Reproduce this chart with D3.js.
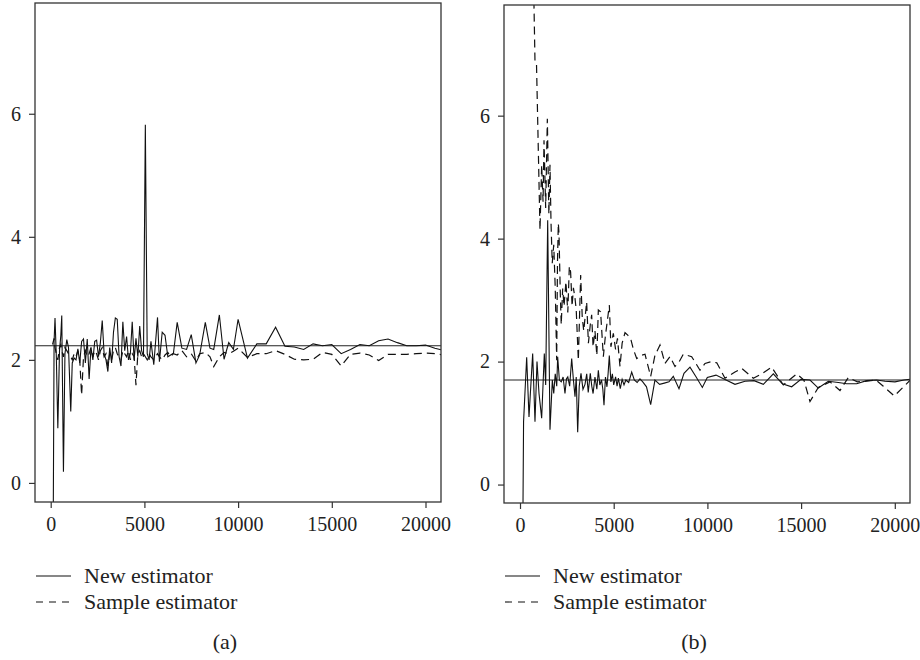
<!DOCTYPE html>
<html>
<head>
<meta charset="utf-8">
<script src="https://cdn.jsdelivr.net/npm/d3@7"></script>
<style>
  body { margin: 0; background: #fff; }
  svg { display: block; font-family: "Liberation Serif", "DejaVu Serif", serif; }
</style>
</head>
<body>
<div id="chart"></div>
<script>
const width = 920;
const height = 660;

const xTicks = [0, 5000, 10000, 15000, 20000];
const yTicks = [0, 2, 4, 6];
const legendLabels = ["New estimator", "Sample estimator"];
const captions = ["(a)", "(b)"];

// panel (a): both estimators on the same sample sizes
const xA = [
  100, 180, 230, 300, 380, 470, 540, 590, 680, 760,
  860, 950, 1070, 1150, 1250, 1350, 1450, 1550, 1650, 1750,
  1850, 1950, 2050, 2150, 2250, 2350, 2450, 2550, 2650, 2750,
  2850, 2950, 3050, 3150, 3250, 3350, 3450, 3550, 3650, 3750,
  3850, 3950, 4050, 4150, 4250, 4350, 4450, 4550, 4650, 4750,
  4850, 4950, 5050, 5150, 5250, 5350, 5500, 5700, 5800, 5950,
  6100, 6250, 6400, 6550, 6750, 7000, 7250, 7500, 7750, 7950,
  8250, 8500, 8700, 9000, 9250, 9500, 9750, 10000, 10500, 11000,
  11500, 12000, 12500, 13000, 13500, 14000, 14500, 15000, 15500, 16000,
  16500, 17000, 17500, 18000, 18500, 19000, 19500, 20000, 20500, 21000
];
const newA = [
  -3.0, 2.30, 2.68, 2.05, 0.89, 2.15, 2.40, 2.72, 0.18, 2.10,
  2.33, 2.20, 1.16, 1.95, 2.03, 2.00, 2.18, 1.95, 2.30, 2.34,
  1.95, 2.34, 1.69, 2.20, 2.00, 2.30, 2.32, 2.05, 2.28, 2.64,
  2.10, 2.00, 1.81, 2.20, 1.95, 2.45, 2.68, 2.66, 2.05, 1.90,
  2.62, 2.15, 2.38, 2.00, 2.10, 2.62, 2.00, 2.35, 2.05, 2.55,
  2.15, 2.05, 5.82, 2.10, 2.00, 2.30, 1.92, 2.69, 1.97, 2.45,
  2.40, 2.05, 2.08, 2.11, 2.61, 2.19, 2.17, 2.41, 1.95, 2.08,
  2.61, 2.19, 2.17, 2.73, 2.01, 2.28, 2.17, 2.66, 2.03, 2.26,
  2.26, 2.53, 2.22, 2.21, 2.17, 2.26, 2.23, 2.25, 2.10, 2.17,
  2.25, 2.23, 2.31, 2.34, 2.28, 2.23, 2.23, 2.24, 2.19, 2.15
];
const sampleA = [
  2.25, 2.35, 2.20, 2.10, 2.00, 2.20, 2.25, 2.15, 2.05, 2.20,
  2.15, 2.10, 2.05, 2.00, 2.10, 2.05, 2.15, 2.00, 1.43, 2.05,
  2.15, 2.05, 2.10, 2.20, 2.05, 2.15, 2.10, 2.00, 2.15, 2.20,
  2.05, 2.10, 1.90, 2.10, 2.00, 2.15, 2.20, 2.10, 2.05, 2.00,
  2.15, 2.10, 2.05, 2.15, 2.00, 2.10, 2.05, 1.59, 2.10, 2.15,
  2.05, 2.10, 2.05, 2.00, 2.10, 2.05, 2.00, 2.10, 2.05, 2.00,
  2.08, 2.12, 2.05, 2.10, 2.08, 2.15, 2.05, 2.10, 1.98, 2.10,
  2.12, 2.05, 1.89, 2.05, 2.12, 2.10, 2.14, 2.19, 2.04, 2.10,
  2.10, 2.15, 2.09, 2.01, 2.00, 2.01, 2.12, 2.09, 1.90, 2.09,
  2.11, 2.08, 1.99, 2.09, 2.09, 2.09, 2.10, 2.11, 2.10, 2.08
];
const refA = 2.23;

// panel (b)
const xNewB = [
  100, 190, 356, 480, 676, 800, 907, 1014, 1156, 1297,
  1370, 1477, 1600, 1725, 1800, 1880, 1960, 2010, 2100, 2200,
  2300, 2400, 2480, 2550, 2650, 2758, 2850, 2935, 3000, 3078,
  3160, 3255, 3360, 3468, 3560, 3640, 3750, 3830, 3900, 4000,
  4100, 4180, 4260, 4350, 4420, 4482, 4560, 4640, 4700, 4766,
  4850, 4930, 5000, 5100, 5180, 5250, 5350, 5450, 5550, 5650,
  5800, 5960, 6100, 6250, 6400, 6550, 6750, 6973, 7200, 7450,
  7700, 7950, 8180, 8484, 8750, 9071, 9400, 9730, 9995, 10459,
  10939, 11472, 12006, 12486, 12984, 13517, 13998, 14496, 14994, 15474,
  15918, 16452, 16986, 17430, 17964, 18498, 19032, 19476, 20010, 20490,
  20987
];
const newB = [
  -3.0, 1.02, 2.07, 1.10, 2.13, 1.02, 2.00, 1.48, 1.08, 2.13,
  1.62, 4.30, 0.89, 1.70, 1.48, 1.80, 1.60, 2.08, 1.70, 1.67,
  1.75, 1.48, 1.72, 1.75, 1.60, 2.05, 1.70, 1.43, 1.75, 0.85,
  1.60, 1.81, 1.55, 1.63, 1.80, 1.50, 1.81, 1.60, 1.48, 1.75,
  1.55, 1.86, 1.62, 1.70, 1.55, 1.29, 1.75, 1.59, 1.80, 2.10,
  1.67, 1.80, 1.62, 1.75, 1.60, 1.73, 1.56, 1.71, 1.62, 1.70,
  1.66, 1.83, 1.70, 1.66, 1.72, 1.67, 1.59, 1.30, 1.70, 1.63,
  1.65, 1.67, 1.76, 1.56, 1.81, 1.91, 1.75, 1.58, 1.74, 1.78,
  1.71, 1.63, 1.68, 1.69, 1.63, 1.80, 1.64, 1.59, 1.71, 1.70,
  1.57, 1.68, 1.66, 1.64, 1.64, 1.69, 1.70, 1.68, 1.67, 1.70,
  1.72
];
const xSampleB = [
  100, 400, 711, 800, 880, 1067, 1156, 1230, 1281, 1370,
  1459, 1540, 1600, 1654, 1720, 1800, 1880, 1957, 2000, 2045,
  2081, 2150, 2200, 2277, 2350, 2450, 2550, 2632, 2700, 2780,
  2850, 2935, 3000, 3113, 3237, 3320, 3400, 3557, 3650, 3750,
  3824, 3900, 4000, 4100, 4180, 4300, 4447, 4550, 4767, 4850,
  4980, 5100, 5200, 5336, 5450, 5603, 5750, 5900, 6050, 6227,
  6450, 6670, 6973, 7200, 7470, 7737, 8004, 8270, 8500, 8715,
  9160, 9605, 9872, 10228, 10500, 10939, 11472, 11828, 12450, 12900,
  13428, 14050, 14762, 15150, 15474, 15918, 16541, 17075, 17519, 18000,
  18500, 19000, 19387, 19974, 20500, 20990
];
const sampleB = [
  14.0, 11.0, 8.40, 6.87, 6.85, 4.14, 5.20, 4.60, 5.60, 4.50,
  5.95, 4.40, 5.20, 4.27, 3.60, 3.90, 3.20, 2.02, 3.62, 4.25,
  4.08, 3.10, 2.60, 3.19, 2.90, 3.30, 2.80, 3.55, 3.46, 2.90,
  3.20, 3.03, 2.84, 2.02, 3.41, 2.73, 2.50, 2.97, 2.30, 2.60,
  2.76, 2.24, 2.50, 2.10, 2.84, 2.81, 2.08, 2.40, 2.92, 2.24,
  2.46, 2.20, 2.38, 1.92, 2.30, 2.47, 2.43, 2.38, 2.20, 2.05,
  2.10, 2.12, 1.76, 2.10, 2.27, 1.97, 2.08, 1.92, 2.00, 2.12,
  2.08, 1.86, 1.97, 2.00, 1.98, 1.73, 1.83, 1.89, 1.73, 1.80,
  1.91, 1.62, 1.80, 1.70, 1.35, 1.58, 1.67, 1.53, 1.74, 1.67,
  1.68, 1.70, 1.60, 1.44, 1.60, 1.75
];
const refB = 1.70;

const panels = [
  { xNew: xA, yNew: newA, xSample: xA, ySample: sampleA, ref: refA,
    left: 35, right: 441, top: 3, bottom: 502,
    xDomain: [-838, 20827], yDomain: [-0.31, 7.80], captionX: 225 },
  { xNew: xNewB, yNew: newB, xSample: xSampleB, ySample: sampleB, ref: refB,
    left: 504, right: 910, top: 5, bottom: 503,
    xDomain: [-854, 20811], yDomain: [-0.30, 7.80], captionX: 694 }
];

const svg = d3.select("#chart").append("svg")
    .attr("width", width)
    .attr("height", height);

function drawPanel(p, i) {
  const x = d3.scaleLinear().domain(p.xDomain).range([p.left, p.right]);
  const y = d3.scaleLinear().domain(p.yDomain).range([p.bottom, p.top]);
  const g = svg.append("g");

  g.append("clipPath").attr("id", "clip" + i)
    .append("rect")
    .attr("x", p.left).attr("y", p.top)
    .attr("width", p.right - p.left).attr("height", p.bottom - p.top);

  const line = d3.line().x(d => x(d[0])).y(d => y(d[1]));
  const plot = g.append("g").attr("clip-path", `url(#clip${i})`);

  plot.append("line")
    .attr("x1", p.left).attr("x2", p.right)
    .attr("y1", y(p.ref)).attr("y2", y(p.ref))
    .attr("stroke", "#222").attr("stroke-width", 1.1);

  plot.append("path")
    .datum(d3.zip(p.xSample, p.ySample))
    .attr("d", line)
    .attr("fill", "none")
    .attr("stroke", "#111")
    .attr("stroke-width", 1.2)
    .attr("stroke-dasharray", "8,5");

  plot.append("path")
    .datum(d3.zip(p.xNew, p.yNew))
    .attr("d", line)
    .attr("fill", "none")
    .attr("stroke", "#111")
    .attr("stroke-width", 1.1)
    .attr("stroke-linejoin", "miter");

  g.append("rect")
    .attr("x", p.left).attr("y", p.top)
    .attr("width", p.right - p.left).attr("height", p.bottom - p.top)
    .attr("fill", "none")
    .attr("stroke", "#333")
    .attr("stroke-width", 1.3);

  const xAxis = g.append("g")
    .attr("transform", `translate(0, ${p.bottom})`)
    .call(d3.axisBottom(x).tickValues(xTicks).tickFormat(d3.format("d")).tickSize(6).tickPadding(9));
  const yAxis = g.append("g")
    .attr("transform", `translate(${p.left}, 0)`)
    .call(d3.axisLeft(y).tickValues(yTicks).tickFormat(d3.format("d")).tickSize(6).tickPadding(8));

  [xAxis, yAxis].forEach(ax => {
    ax.select(".domain").remove();
    ax.selectAll(".tick line").attr("stroke", "#333").attr("stroke-width", 1.2);
    ax.selectAll(".tick text")
      .attr("fill", "#222")
      .style("font-family", "'Liberation Serif', serif")
      .style("font-size", "20px");
  });

  const legend = g.append("g").attr("transform", `translate(${p.left + 1}, 0)`);
  legendLabels.forEach((label, k) => {
    const ly = 576 + k * 26;
    legend.append("line")
      .attr("x1", 0).attr("x2", 35)
      .attr("y1", ly).attr("y2", ly)
      .attr("stroke", "#111")
      .attr("stroke-width", 1.1)
      .attr("stroke-dasharray", k === 1 ? "7,6" : null);
    legend.append("text")
      .attr("x", 48).attr("y", ly + 7)
      .attr("fill", "#222")
      .style("font-size", "22px")
      .text(label);
  });

  g.append("text")
    .attr("x", p.captionX).attr("y", 649)
    .attr("text-anchor", "middle")
    .attr("fill", "#222")
    .style("font-size", "22px")
    .text(captions[i]);
}

panels.forEach(drawPanel);
</script>
</body>
</html>
